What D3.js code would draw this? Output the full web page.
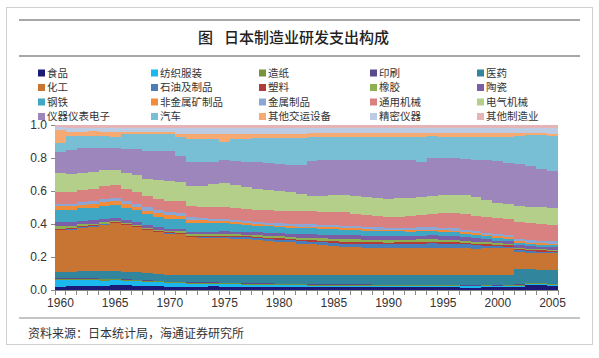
<!DOCTYPE html>
<html><head><meta charset="utf-8">
<script src="https://cdn.jsdelivr.net/npm/d3@7"></script>
<style>body{margin:0;background:#fff;} svg{display:block;}</style>
</head><body><svg id="c" width="599" height="358"></svg>
<script>
const years = [1960,1961,1962,1963,1964,1965,1966,1967,1968,1969,1970,1971,1972,1973,1974,1975,1976,1977,1978,1979,1980,1981,1982,1983,1984,1985,1986,1987,1988,1989,1990,1991,1992,1993,1994,1995,1996,1997,1998,1999,2000,2001,2002,2003,2004,2005];
const xLabelYears = [1960,1965,1970,1975,1980,1985,1990,1995,2000,2005];
const yTicks = [0,0.2,0.4,0.6,0.8,1.0];
const seriesNames = ["食品","纺织服装","造纸","印刷","医药","化工","石油及制品","塑料","橡胶","陶瓷","钢铁","非金属矿制品","金属制品","通用机械","电气机械","仪器仪表电子","汽车","其他交运设备","精密仪器","其他制造业"];
const colors = ["#1c1a78","#1ab8ec","#77933c","#5b4a8a","#31859c","#c87533","#4a7ebb","#b23c3a","#8db050","#7a5ea6","#3fa6c4","#f08c3a","#8aa7d6","#d98080","#b3cf89","#9d86bb","#78bfd6","#f6aa72","#bccbe4","#e5b4b6"];

// values in percent of manufacturing R&D, 1960..2005
const food = [2.0,2.2,2.3,2.4,2.5,2.8,2.8,2.7,2.6,2.4, 2.1,2.0,2.0,2.1,2.1,2.0,2.0,1.9,1.9,1.9, 1.8,1.8,1.8,1.7,1.7,1.8,1.8,1.7,1.7,1.6, 1.6,1.6,1.7,1.7,1.6,1.6,1.6,1.5,1.5,1.6, 1.6,1.7,2.0,2.8,2.9,2.3];
const textile = [4.0,3.9,3.8,3.6,3.3,3.0,2.8,2.6,2.4,2.2, 2.0,1.8,1.7,1.6,1.5,1.4,1.3,1.3,1.2,1.2, 1.1,1.1,1.0,1.0,1.0,0.9,0.9,0.9,0.9,0.9, 0.8,0.8,0.8,0.8,0.8,0.7,0.7,0.7,0.7,0.7, 0.6,0.6,0.6,0.6,0.6,0.6];
const paper = [0.8,0.8,0.8,0.8,0.8,0.8,0.8,0.8,0.7,0.7, 0.7,0.7,0.7,0.7,0.7,0.7,0.7,0.6,0.6,0.6, 0.6,0.6,0.6,0.6,0.5,0.5,0.5,0.5,0.5,0.5, 0.5,0.5,0.5,0.5,0.5,0.5,0.5,0.5,0.5,0.5, 0.5,0.5,0.5,0.5,0.5,0.5];
const printing = [0.3,0.3,0.3,0.3,0.3,0.3,0.3,0.3,0.3,0.3, 0.3,0.3,0.3,0.3,0.3,0.3,0.3,0.3,0.3,0.3, 0.3,0.3,0.3,0.3,0.3,0.3,0.3,0.3,0.3,0.3, 0.3,0.3,0.3,0.3,0.3,0.3,0.3,0.3,0.3,0.3, 0.3,0.3,0.3,0.3,0.3,0.3];
const pharma = [4.0,4.1,4.3,4.4,4.5,4.6,4.5,4.3,4.1,4.0, 3.9,4.0,4.2,4.4,4.5,4.7,4.8,4.9,5.0,5.1, 5.3,5.4,5.5,5.5,5.6,5.6,5.7,5.7,5.8,5.8, 5.9,5.9,5.9,5.9,6.0,6.0,6.0,6.1,6.1,6.1, 6.1,6.2,8.7,8.0,7.9,8.5];
const chemical = [25.0,25.5,26.5,27.5,28.5,29.0,28.5,27.5,26.5,25.5, 25.0,23.5,23.0,22.5,22.0,22.0,21.5,21.5,21.0,20.5, 20.0,19.5,19.0,18.5,18.0,17.5,17.0,17.0,16.5,16.5, 16.2,16.5,16.5,16.5,16.5,16.2,16.2,16.0,16.0,16.2, 16.2,16.0,10.5,10.0,10.0,10.0];
const petroleum = [0.4,0.4,0.4,0.3,0.3,0.3,0.3,0.3,0.3,0.3, 0.3,0.4,0.4,0.5,0.6,0.8,0.9,1.0,1.1,1.2, 1.2,1.3,1.4,1.6,1.8,1.8,2.0,2.1,2.2,2.4, 2.5,2.6,2.6,2.7,2.8,2.7,2.6,2.4,2.0,1.6, 1.2,1.0,0.8,0.7,0.7,0.7];
const plastic = [0.6,0.6,0.5,0.5,0.5,0.4,0.4,0.4,0.4,0.4, 0.4,0.5,0.5,0.5,0.5,0.6,0.6,0.6,0.7,0.7, 0.8,0.8,0.9,0.9,1.0,1.0,1.0,1.0,1.1,1.1, 1.1,1.1,1.1,1.1,1.0,1.0,1.0,1.0,0.9,0.9, 0.8,0.8,0.7,0.7,0.7,0.7];
const rubber = [1.4,1.3,1.2,1.1,1.0,0.9,0.9,0.9,0.9,0.9, 0.9,0.9,0.9,1.0,1.0,1.0,1.1,1.1,1.2,1.2, 1.2,1.3,1.4,1.5,1.5,1.6,1.6,1.6,1.6,1.5, 1.5,1.5,1.5,1.5,1.4,1.4,1.4,1.3,1.2,1.1, 1.0,0.9,0.8,0.8,0.8,0.8];
const ceramics = [2.6,2.4,2.2,2.0,1.8,1.6,1.6,1.6,1.5,1.5, 1.4,1.4,1.4,1.5,1.5,1.6,1.6,1.7,1.8,1.8, 1.8,1.9,2.0,2.1,2.2,2.3,2.4,2.4,2.5,2.5, 2.5,2.4,2.4,2.4,2.3,2.3,2.2,2.1,2.0,1.8, 1.6,1.5,1.4,1.4,1.3,1.3];
const steel = [7.5,7.6,7.8,8.0,8.2,8.1,7.8,7.3,6.8,6.4, 6.1,5.8,5.6,5.4,5.0,4.6,4.4,4.2,4.0,3.8, 3.6,3.6,3.7,3.7,3.6,3.6,3.5,3.3,3.1,2.9, 2.8,2.8,2.7,2.6,2.5,2.4,2.3,2.2,2.1,1.9, 1.8,1.8,1.6,1.5,1.4,1.4];
const nonMetal = [2.0,2.0,2.0,2.0,2.0,2.0,2.0,2.0,2.0,2.0, 2.0,1.9,1.8,1.6,1.5,1.4,1.2,1.1,1.0,0.9, 0.8,0.8,0.9,1.0,1.0,1.0,1.0,0.9,0.9,0.8, 0.8,0.8,0.9,0.9,1.0,1.0,1.0,0.9,0.9,0.8, 0.8,0.8,0.8,0.8,0.8,0.8];
const metalProd = [1.6,1.7,1.8,1.9,2.0,2.0,2.0,2.0,2.0,2.0, 2.0,1.8,1.6,1.4,1.2,1.0,1.1,1.2,1.3,1.5, 1.6,1.6,1.5,1.5,1.4,1.4,1.4,1.4,1.4,1.4, 1.4,1.4,1.5,1.5,1.6,1.6,1.6,1.5,1.5,1.4, 1.4,1.4,1.4,1.4,1.4,1.4];
const generalMach = [7.1,7.2,7.4,7.8,8.2,8.0,7.6,7.2,6.8,6.6, 6.4,6.6,6.8,7.0,7.2,7.4,7.4,7.4,7.4,7.4, 7.4,7.6,7.8,8.0,8.1,8.2,8.0,7.6,7.2,6.8, 6.5,6.8,7.2,7.6,8.2,8.8,9.0,9.2,9.2,9.3, 9.5,9.6,9.8,10.0,10.0,10.1];
const electric = [11.1,10.6,10.5,10.0,9.4,9.1,9.6,10.2,10.8,11.5, 12.2,11.1,12.1,12.4,13.3,14.1,13.6,13.0,12.6,12.3, 12.1,11.6,10.6,9.1,9.2,10.1,10.5,10.6,11.0,11.0, 11.2,11.5,11.2,11.0,11.0,11.1,11.3,11.4,11.4,10.5, 9.1,9.2,9.4,9.6,10.0,10.1];
const instruments = [13.1,15.1,15.2,15.2,13.9,13.2,15.0,16.0,17.1,17.8, 18.1,15.1,14.2,14.4,13.4,14.2,14.4,15.0,15.9,16.0, 16.2,16.0,17.4,21.2,22.4,21.4,21.4,22.0,22.4,23.0, 23.4,23.4,23.5,21.8,23.0,22.4,22.0,22.0,22.5,24.0, 25.5,25.0,25.0,24.5,23.0,22.2];
const autos = [5.5,8.1,7.0,7.0,7.0,7.0,9.0,9.0,10.2,10.2, 10.2,11.2,14.2,14.0,13.5,10.7,13.5,14.0,14.5,15.0, 15.2,16.0,16.5,14.7,14.0,14.0,14.0,14.0,14.0,14.0, 14.0,14.0,14.5,15.2,13.0,13.0,13.0,13.5,14.0,14.5, 15.0,16.0,16.5,18.0,20.0,21.3];
const otherTransport = [7.7,3.0,3.0,3.0,3.0,3.0,1.5,1.5,1.5,1.5, 1.5,1.5,3.0,3.0,3.0,4.4,2.6,2.6,2.6,2.6, 2.6,2.6,2.6,2.0,2.0,2.0,2.2,2.2,2.4,2.4, 2.4,2.4,2.2,2.2,2.0,2.0,2.0,2.0,2.0,2.0, 2.0,2.0,1.5,1.2,1.0,1.0];
const precision = [1.5,2.0,2.0,2.0,2.0,2.0,2.0,2.0,2.0,2.0, 2.0,3.5,3.5,3.5,3.5,3.5,3.5,3.5,3.5,3.5, 3.5,3.5,3.5,3.0,3.0,3.0,3.0,3.0,3.0,3.0, 3.0,3.0,3.0,3.0,3.0,3.0,3.0,3.0,3.0,3.0, 3.0,3.0,3.0,3.0,3.0,3.5];
const otherMfg = [1.5,2.0,2.0,2.0,2.0,2.0,2.0,2.0,2.0,2.0, 2.0,2.0,2.0,2.0,2.0,2.0,2.0,2.0,2.0,2.0, 2.0,2.0,2.0,2.0,2.0,2.0,2.0,2.0,2.0,2.0, 2.0,2.0,2.0,2.0,2.0,2.0,2.0,2.0,2.0,2.0, 2.0,2.0,2.0,2.0,2.0,2.0];

const seriesValues = [food,textile,paper,printing,pharma,chemical,petroleum,plastic,rubber,ceramics,steel,nonMetal,metalProd,generalMach,electric,instruments,autos,otherTransport,precision,otherMfg];

const svg = d3.select("#c");
const cjk = "'Noto Sans CJK SC','Noto Sans',sans-serif";
const num = "'Liberation Sans',Arial,sans-serif";

// frame and rules
svg.append("rect").attr("x",6.5).attr("y",7.5).attr("width",586).attr("height",337)
  .attr("fill","none").attr("stroke","#cfcfcf");
svg.append("line").attr("x1",19).attr("x2",580).attr("y1",20).attr("y2",20).attr("stroke","#8a8a8a").attr("stroke-width",1.5);
svg.append("line").attr("x1",19).attr("x2",580).attr("y1",56).attr("y2",56).attr("stroke","#8a8a8a").attr("stroke-width",1.5);
svg.append("line").attr("x1",19).attr("x2",580).attr("y1",318).attr("y2",318).attr("stroke","#8a8a8a").attr("stroke-width",1.2);

svg.append("text").attr("x",198).attr("y",43).attr("font-family",cjk).attr("font-size",15).attr("font-weight",500).attr("fill","#222").text("图");
svg.append("text").attr("x",224).attr("y",43).attr("font-family",cjk).attr("font-size",15).attr("font-weight",500).attr("fill","#222").text("日本制造业研发支出构成");
svg.append("text").attr("x",28).attr("y",338).attr("font-family",cjk).attr("font-size",12).attr("fill","#333").text("资料来源：日本统计局，海通证券研究所");

// data table and stack
const table = years.map((yr,i)=>{const o={year:yr}; seriesNames.forEach((n,k)=>o[n]=seriesValues[k][i]); return o;});
const layers = d3.stack().keys(seriesNames).offset(d3.stackOffsetExpand)(table);

const x = d3.scaleBand().domain(years).range([55,558]).padding(0);
const y = d3.scaleLinear().domain([0,1]).range([290,125]);

svg.append("g").selectAll("g").data(layers).join("g")
  .attr("fill",(d,i)=>colors[i])
  .selectAll("rect").data(d=>d).join("rect")
  .attr("shape-rendering","crispEdges")
  .attr("x",d=>x(d.data.year)).attr("width",x.bandwidth())
  .attr("y",d=>y(d[1])).attr("height",d=>y(d[0])-y(d[1]));

// axes
const yAxis = d3.axisLeft(y).tickValues(yTicks).tickFormat(d3.format(".1f")).tickSize(4).tickPadding(4);
const gy = svg.append("g").attr("transform","translate(55,0)").call(yAxis);
gy.select(".domain").remove();
gy.selectAll("line").attr("stroke","#888");
gy.selectAll("text").attr("font-family",num).attr("font-size",12).attr("fill","#333");

const xAxis = d3.axisBottom(x).tickValues(xLabelYears).tickSize(0).tickPadding(8);
const gx = svg.append("g").attr("transform","translate(0,290)").call(xAxis);
gx.select(".domain").attr("stroke","#888");
gx.selectAll("text").attr("font-family",num).attr("font-size",12).attr("fill","#333");
// category boundary tick marks
gx.selectAll("line.cat").data(years.concat(["end"])).join("line").attr("class","cat")
  .attr("x1",d=>d==="end"?558:x(d)).attr("x2",d=>d==="end"?558:x(d))
  .attr("y1",0).attr("y2",5).attr("stroke","#888").attr("shape-rendering","crispEdges");

// legend
const colX = [38,151,259,370,477];
const rowY = [73,87.5,102,116.5];
const lg = svg.append("g").selectAll("g").data(seriesNames).join("g")
  .attr("transform",(d,i)=>`translate(${colX[i%5]},${rowY[Math.floor(i/5)]})`);
lg.append("rect").attr("x",0).attr("y",-3.5).attr("width",7).attr("height",7).attr("fill",(d,i)=>colors[i]);
lg.append("text").attr("x",9).attr("y",0).attr("dy","0.36em").attr("font-family",cjk).attr("font-size",10.5).attr("fill","#333").attr("transform","scale(1.12,1)").attr("transform",null)
  .style("font-stretch","normal").text(d=>d);
</script>
</body></html>
